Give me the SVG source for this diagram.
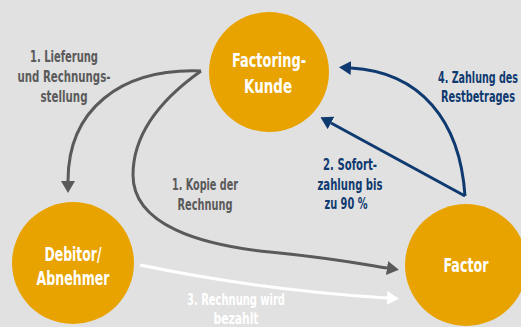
<svg xmlns="http://www.w3.org/2000/svg" width="521" height="327" viewBox="0 0 521 327">
<style>
.node{fill:#e8a300}
.nt{font-family:"Liberation Sans Narrow","DejaVu Sans Condensed","Liberation Sans",sans-serif;font-weight:bold;font-size:20px;fill:#fff;text-anchor:middle}
.lb{font-family:"Liberation Sans Narrow","DejaVu Sans Condensed","Liberation Sans",sans-serif;font-weight:bold;font-size:15px;text-anchor:middle}
.g{fill:#5a5a5a}
.b{fill:#0f3a70}
.w{fill:#fff}
.cg{fill:none;stroke:#5a5a5a;stroke-width:3}
.cb{fill:none;stroke:#0f3a70;stroke-width:3}
.cw{fill:none;stroke:#fff;stroke-width:3}
</style>
<defs>
<marker id="ag" markerUnits="userSpaceOnUse" markerWidth="14" markerHeight="14" refX="0" refY="7" orient="auto"><path d="M0 0 L12 7 L0 14 Z" fill="#5a5a5a"/></marker>
<marker id="ab" markerUnits="userSpaceOnUse" markerWidth="14" markerHeight="14" refX="0" refY="7" orient="auto"><path d="M0 0 L12 7 L0 14 Z" fill="#0f3a70"/></marker>
<marker id="aw" markerUnits="userSpaceOnUse" markerWidth="14" markerHeight="14" refX="0" refY="7" orient="auto"><path d="M0 0 L12 7 L0 14 Z" fill="#fff"/></marker>
</defs>
<rect width="521" height="327" fill="#e1e1e1"/>
<g id="connectors">
<path class="cg" d="M201 71 C120 68 68 110 68 181" marker-end="url(#ag)"/>
<path class="cg" d="M201 71 C160 100 133 135 133 175 C133 225 200 245 270 252 S360 264 387 268" marker-end="url(#ag)"/>
<path class="cw" d="M140 265 Q260 290 387 298" marker-end="url(#aw)"/>
<path class="cb" d="M465 196 C460 120 420 72 351 68" marker-end="url(#ab)"/>
<path class="cb" d="M465 196 L331 123" marker-end="url(#ab)"/>
</g>
<g id="kunde">
<circle class="node" cx="269" cy="72" r="60"/>
<text class="nt" x="269" y="67" textLength="74" lengthAdjust="spacingAndGlyphs">Factoring-</text>
<text class="nt" x="268" y="93" textLength="48" lengthAdjust="spacingAndGlyphs">Kunde</text>
</g>
<g id="debitor">
<circle class="node" cx="73" cy="263" r="61"/>
<text class="nt" x="73" y="261" textLength="57" lengthAdjust="spacingAndGlyphs">Debitor/</text>
<text class="nt" x="73" y="285" textLength="73" lengthAdjust="spacingAndGlyphs">Abnehmer</text>
</g>
<g id="factor">
<circle class="node" cx="466" cy="265" r="61"/>
<text class="nt" x="466" y="272" textLength="45" lengthAdjust="spacingAndGlyphs">Factor</text>
</g>
<g id="labels">
<text class="lb g" x="64" y="62" textLength="68" lengthAdjust="spacingAndGlyphs">1. Lieferung</text>
<text class="lb g" x="64" y="82" textLength="93" lengthAdjust="spacingAndGlyphs">und Rechnungs-</text>
<text class="lb g" x="64" y="102" textLength="47" lengthAdjust="spacingAndGlyphs">stellung</text>
<text class="lb g" x="205" y="190" textLength="66" lengthAdjust="spacingAndGlyphs">1. Kopie der</text>
<text class="lb g" x="205" y="210" textLength="55" lengthAdjust="spacingAndGlyphs">Rechnung</text>
<text class="lb b" x="350" y="170" textLength="54" lengthAdjust="spacingAndGlyphs">2. Sofort-</text>
<text class="lb b" x="350" y="190" textLength="65" lengthAdjust="spacingAndGlyphs">zahlung bis</text>
<text class="lb b" x="346" y="209" textLength="43" lengthAdjust="spacingAndGlyphs">zu 90 %</text>
<text class="lb b" x="478" y="83" textLength="80" lengthAdjust="spacingAndGlyphs">4. Zahlung des</text>
<text class="lb b" x="478" y="102" textLength="74" lengthAdjust="spacingAndGlyphs">Restbetrages</text>
<text class="lb w" x="236" y="305" textLength="98" lengthAdjust="spacingAndGlyphs">3. Rechnung wird</text>
<text class="lb w" x="236" y="324" textLength="45" lengthAdjust="spacingAndGlyphs">bezahlt</text>
</g>
</svg>
